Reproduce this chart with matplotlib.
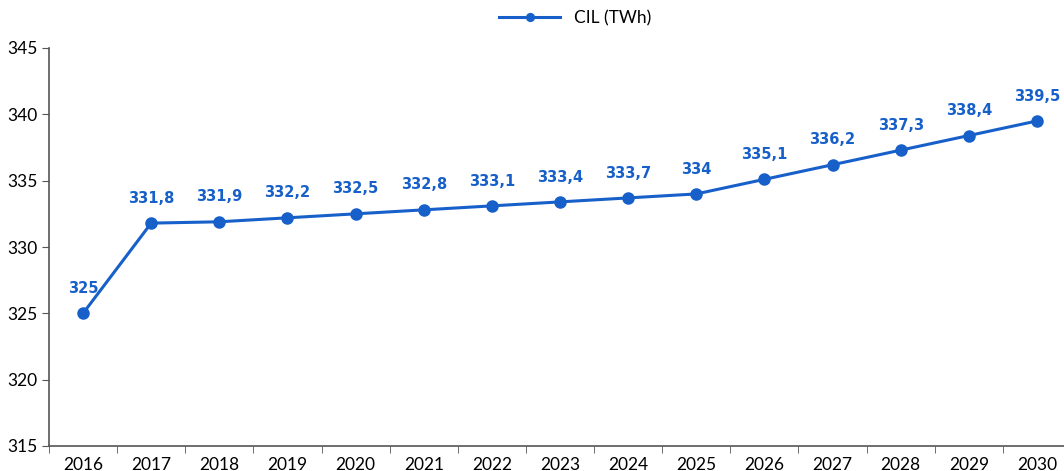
import matplotlib.pyplot as plt
import numpy as np

years = ["2016", "2017", "2018", "2019", "2020", "2021", "2022", "2023",
         "2024", "2025", "2026", "2027", "2028", "2029", "2030"]
cil = [325, 331.8, 331.9, 332.2, 332.5, 332.8, 333.1, 333.4,
       333.7, 334, 335.1, 336.2, 337.3, 338.4, 339.5]

blue = "#1760C9"
plt.rcParams['font.family'] = ['Lato', 'DejaVu Sans']

fig = plt.figure(figsize=(10.64, 4.71), dpi=100)
ax = fig.add_axes([49 / 1064, 1 - 446 / 471, 1022 / 1064, 398 / 471])

x = np.arange(len(years))
ax.plot(x, cil, "-o", color=blue, lw=2.2, markersize=8, label="CIL (TWh)")

for xi, v in zip(x, cil):
    txt = f"{v:g}".replace(".", ",")
    ax.annotate(txt, (xi, v), xytext=(0, 12.5), textcoords="offset points",
                ha="center", va="bottom", color=blue, fontsize=10.5,
                fontweight="bold", family="DejaVu Sans")

ax.set_ylim(315, 345)
ax.set_yticks(range(315, 346, 5))
ax.set_xlim(-0.5, len(years) - 0.5)
ax.set_xticks(x)
ax.set_xticklabels(years)
ax.set_xticks(np.arange(-0.5, len(years), 1), minor=True)
ax.tick_params(axis="x", which="major", length=0, pad=8, labelsize=12.5)
ax.tick_params(axis="x", which="minor", length=5, direction="out", color="#555555")
ax.tick_params(axis="y", length=5, direction="out", labelsize=12.5, color="#555555")

for side in ["top", "right"]:
    ax.spines[side].set_visible(False)
for side in ["left", "bottom"]:
    ax.spines[side].set_color("#555555")
    ax.spines[side].set_linewidth(1.2)

ax.legend(loc="center", bbox_to_anchor=(0.515, 1.075), frameon=False,
          fontsize=12.5, handlelength=3.5, markerscale=0.7)

plt.savefig("out.png", dpi=100)
plt.close()
